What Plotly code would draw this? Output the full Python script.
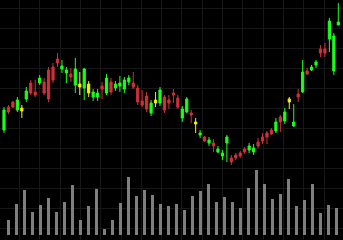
import plotly.graph_objects as go

# ---- candle data (price units), colour group: G=up, R=down, Y=highlight ----
opens  = [110,133,138,130,132,141,157,148,157,158,170,173,181,171,167,166,155,156,152,156,
          143,143,154,147,158,152,154,151,158,157,152,139,144,127,140,137,143,140,147,142,
          122,128,127,118,105,103,97,97,88,84,97,82,85,87,91,90,88,98,103,107,
          110,109,123,119,141,114,146,148,169,170,175,191,191,201,169,215]
highs  = [133,135,139,143,135,153,160,160,165,162,173,177,187,180,173,172,182,168,172,159,
          151,151,158,166,162,159,164,163,165,168,155,150,148,140,148,153,145,145,151,145,
          134,143,130,122,110,104,103,101,94,90,105,85,87,89,93,97,96,102,107,109,
          112,122,125,132,143,136,151,180,172,175,180,195,197,222,207,237]
lows   = [107,126,132,128,122,138,145,143,155,145,138,157,173,167,157,158,147,145,140,143,
          139,139,141,145,145,149,148,147,155,151,135,133,128,124,133,134,127,131,137,131,
          118,127,117,107,102,98,94,88,87,80,78,75,80,82,86,87,85,92,96,96,
          105,107,108,116,131,113,138,147,165,169,172,183,183,188,165,215]
closes = [130,128,133,140,129,149,147,145,162,147,141,160,177,174,170,163,171,153,171,147,
          148,147,151,162,148,156,157,160,162,153,138,135,131,137,137,150,130,137,145,133,
          131,141,125,116,107,99,100,94,91,87,103,78,82,84,88,94,92,94,99,103,
          106,118,118,128,138,118,143,168,166,173,178,187,187,219,204,218]
groups = list("GRRGYGRRGRRRRGGRGYGYGGRGRGGGGRRRRGYGRRRRGGRYGRGRGGGRRRRGGRRRRGRGYGRGRGGRRGGG")

# ---- volume data ----
volumes = [1500,3070,4470,2300,3000,3730,2270,3330,5000,1530,2900,4570,600,1470,3200,5830,
           3870,4500,4000,3130,2930,3100,2500,3930,4370,5100,3270,3800,3300,2730,4700,6500,
           5100,3630,4100,5600,2900,3500,5130,2170,2970,2670]

GREEN, RED, YELLOW, GREY, GRID = "#1aff1a", "#d0303a", "#f2f200", "#7f7f7f", "#171717"

idx = list(range(len(opens)))
main = [i for i in idx if groups[i] != "Y"]
yel = [i for i in idx if groups[i] == "Y"]

fig = go.Figure()

fig.add_trace(go.Candlestick(
    x=main, open=[opens[i] for i in main], high=[highs[i] for i in main],
    low=[lows[i] for i in main], close=[closes[i] for i in main],
    increasing=dict(line=dict(color=GREEN, width=1), fillcolor=GREEN),
    decreasing=dict(line=dict(color=RED, width=1), fillcolor=RED),
    whiskerwidth=0, showlegend=False))
fig.add_trace(go.Candlestick(
    x=yel, open=[opens[i] for i in yel], high=[highs[i] for i in yel],
    low=[lows[i] for i in yel], close=[closes[i] for i in yel],
    increasing=dict(line=dict(color=YELLOW, width=1), fillcolor=YELLOW),
    decreasing=dict(line=dict(color=YELLOW, width=1), fillcolor=YELLOW),
    whiskerwidth=0, showlegend=False))

fig.add_trace(go.Bar(x=list(range(len(volumes))), y=volumes, width=0.34,
                     marker=dict(color=GREY, line=dict(width=0)),
                     xaxis="x2", yaxis="y2", showlegend=False))

n = len(opens)
step = 334.3 / (n - 1)
fig.update_layout(
    width=343, height=240, margin=dict(l=0, r=0, t=0, b=0),
    paper_bgcolor="#000000", plot_bgcolor="#000000", showlegend=False,
    xaxis=dict(range=[-4 / step, (343 - 4) / step], rangeslider=dict(visible=False),
               domain=[0, 1], showgrid=True, gridcolor=GRID, gridwidth=1,
               tickmode="linear", tick0=(19.5 - 4) / step, dtick=20.3 / step,
               showticklabels=False, zeroline=False, showline=False, ticks=""),
    yaxis=dict(range=[0, 240], domain=[0, 1], showgrid=True, gridcolor=GRID, gridwidth=1,
               tickmode="linear", tick0=11.7, dtick=20,
               showticklabels=False, zeroline=False, showline=False, ticks=""),
    xaxis2=dict(range=[-8.3 / 8, (343 - 8.3) / 8], visible=False, overlaying="x",
                anchor="y2"),
    yaxis2=dict(range=[-500, 23500], visible=False, overlaying="y", anchor="x2"),
    bargap=0,
)

fig.write_html("out.html")
